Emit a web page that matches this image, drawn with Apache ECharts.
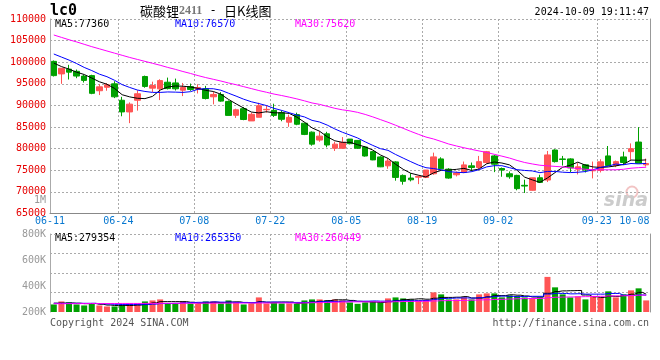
<!DOCTYPE html>
<html><head><meta charset="utf-8">
<script src="https://cdn.jsdelivr.net/npm/echarts@6/dist/echarts.min.js"></script>
<style>html,body{margin:0;padding:0;background:#fff}#c{width:660px;height:360px}</style>
</head><body><div id="c"></div>
<script>
const dates = ['06-11','06-12','06-13','06-14','06-17','06-18','06-19','06-20','06-21','06-24','06-25','06-26','06-27','06-28',
'07-01','07-02','07-03','07-04','07-05','07-08','07-09','07-10','07-11','07-12','07-15','07-16','07-17','07-18','07-19',
'07-22','07-23','07-24','07-25','07-26','07-29','07-30','07-31',
'08-01','08-02','08-05','08-06','08-07','08-08','08-09','08-12','08-13','08-14','08-15','08-16',
'08-19','08-20','08-21','08-22','08-23','08-26','08-27','08-28','08-29','08-30',
'09-02','09-03','09-04','09-05','09-06','09-09','09-10','09-11','09-12','09-13','09-18','09-19','09-20',
'09-23','09-24','09-25','09-26','09-27','09-30','10-08'];
const open = [100200,97300,98400,97900,96800,96900,93400,94200,95000,91200,88500,91200,96700,94000,93840,95370,95210,93530,94370,93700,93840,92000,92540,90930,87720,89250,86420,87260,89000,88870,88330,86120,87880,85890,83820,81990,83440,80080,80080,82220,81910,80380,79310,78090,76030,76940,73810,73200,73400,73350,74190,77630,75260,73960,74500,76030,75640,76790,78320,75410,74190,73810,71520,70370,73270,72740,79690,77630,77630,75260,76260,74880,74960,78320,76100,78090,79310,81530,76260];
const close = [96900,98600,97700,96800,95800,92800,94300,94800,92000,88500,90300,92700,94400,94600,95750,93900,93850,94150,93700,94150,91600,92550,91000,87700,89000,86750,87950,89950,89100,87700,86800,87250,85650,83300,81050,82900,80850,81050,81450,81150,80100,78300,77400,75800,77150,73350,72450,72800,73600,75050,78100,75350,73200,74350,76250,75650,77000,79300,76400,75050,73500,70750,71350,73250,72200,78550,77000,77500,75550,75800,75050,74950,76950,76100,77000,76800,80000,76650,76550];
const low = [96700,95000,96000,96300,95300,92600,92400,93400,91700,87500,85900,88800,94100,93100,91240,93700,93460,92160,93380,92770,91390,90250,90860,87700,87110,86580,86420,87260,88330,87340,86350,85050,85430,83140,80690,81610,80310,79470,79920,81000,79920,78170,77330,75720,75340,72590,71670,72430,71800,73200,73960,75260,73040,73580,74340,74730,75110,76560,74570,73500,73040,70370,69760,70290,72050,72280,76790,76100,74570,74040,74500,73120,74500,75950,75720,76260,77400,76640,75870];
const high = [100400,98600,99400,98300,97100,97100,94900,95200,95600,92000,90700,93500,96900,95500,96060,96440,96210,95210,95060,94900,94530,93150,93070,91160,89250,89630,88330,90630,90020,90400,88870,87880,88330,86040,83980,84050,83900,81610,82680,82220,81990,80540,79470,78240,77780,77100,74040,74340,73800,75050,79080,78010,75490,74730,77020,76790,78320,79470,78550,75640,74730,73960,72820,73270,73960,79470,79850,78320,77780,76640,76410,77020,77560,80610,77250,79310,81220,84970,77710];
const ma5 = [99800,99000,98400,97700,97160,96340,95480,94900,93940,92480,91980,91660,91580,92100,93550,94270,94500,94450,94270,93950,93490,93230,92600,91400,90370,89400,88480,88270,88550,88290,88300,88160,87300,86140,84810,84030,82750,81830,81460,81480,80920,80410,79680,78550,77750,76400,75230,74310,73870,73450,74400,74980,75060,75210,75450,74960,75290,76510,76920,76680,76250,75000,73410,72780,72210,73220,74470,75700,76160,76880,76180,75770,75660,75770,76010,76360,77370,77310,77400];
const ma10 = [101900,101200,100500,99700,98800,98070,97240,96650,95820,94820,94160,93570,93240,93020,93015,93125,93080,93015,93185,93750,93880,93865,93525,92835,92160,91445,90855,90435,89975,89330,88850,88320,87785,87345,86550,86165,85455,84565,83800,83145,82475,81580,80755,80005,79615,78660,77820,76995,76210,75600,75400,75105,74685,74540,74450,74680,75135,75785,76065,76065,75605,75145,74960,74850,74445,74735,74735,74555,74470,74545,74700,75120,75680,75965,76445,76270,76570,76485,76585];
const ma30 = [106300,105750,105200,104700,104150,103600,103100,102600,102100,101600,101100,100650,100200,99750,99300,98800,98350,97850,97400,96900,96450,96050,95650,95200,94800,94350,93900,93450,93050,92633,92297,91918,91517,91067,90575,90245,89797,89338,88987,88742,88402,87922,87355,86728,86108,85423,84710,83998,83328,82692,82242,81668,81075,80630,80205,79835,79470,79115,78692,78270,77827,77277,76800,76465,76170,76025,75897,75778,75582,75403,75235,75123,75108,75118,75113,75228,75480,75608,75707];
const volume = [195000,219000,211000,195000,187000,203000,187000,179000,179000,187000,203000,203000,219000,227000,235000,203000,203000,219000,203000,203000,219000,219000,203000,227000,211000,195000,203000,251000,203000,211000,203000,203000,203000,227000,235000,235000,227000,235000,227000,211000,200000,211000,219000,211000,243000,251000,243000,235000,227000,227000,291000,275000,235000,235000,251000,235000,275000,283000,283000,251000,267000,259000,251000,243000,251000,414000,331000,275000,251000,259000,235000,259000,251000,299000,251000,275000,307000,323000,227000];
const vma5 = [205000,206000,207000,205000,201400,203000,196600,190200,187000,187000,187000,190200,198200,207800,217400,217400,217400,217400,212600,206200,209400,212600,209400,214200,215800,211000,207800,217400,212600,212600,214200,214200,204600,209400,214200,220600,225400,231800,231800,227000,220000,216800,213600,210400,216800,227000,233400,236600,239800,236600,244600,251000,251000,252600,257400,246200,246200,255800,265400,265400,271800,268600,262200,254200,254200,283600,298000,302800,304400,306000,270200,255800,251000,260600,259000,267000,276600,291000,276600];
const vma10 = [204000,204000,204000,204000,204000,204000,201300,198600,196000,194200,195000,193400,194200,197400,202200,202200,203800,207800,210200,211800,213400,215000,213400,213400,211000,210200,210200,213400,213400,214200,212600,211000,211000,211000,213400,217400,219800,218200,220600,220600,220300,221100,222700,221100,221900,223500,225100,225100,225100,226700,235800,242200,243800,246200,247000,245400,248600,253400,259000,261400,259000,257400,259000,259800,259800,277700,283300,282500,279300,280100,276900,276900,276900,282500,282500,268600,266200,271000,268600];
const vma30 = [201000,201000,201500,201500,202000,202000,202000,202500,202500,203000,203000,203000,203500,203500,204000,204000,204000,204500,204500,205000,205000,205000,205500,205500,206000,206000,206000,206500,206500,206700,207000,206500,206200,207300,208900,209900,211300,213100,214700,215500,215400,215700,215700,215200,215400,217000,218400,218900,219700,220500,222900,224800,225800,226100,227400,228800,231200,232200,234900,236200,238400,240200,241800,242400,242900,248900,252300,253700,254500,256100,257200,258800,259900,262800,263100,263900,266000,269000,269000];
const gridDates = ['06-24','07-08','07-22','08-05','08-19','09-02','09-23'];
const labelDates = ['06-11','06-24','07-08','07-22','08-05','08-19','09-02','09-23','10-08'];
const priceLegend = ['MA5:77360','MA10:76570','MA30:75620'];
const volLegend = ['MA5:279354','MA10:265350','MA30:260449'];
const titleName = '碳酸锂', titleCode = '2411', titleRest = '日K线图';
const stamp = '2024-10-09 19:11:47';

const MONO = '"DejaVu Sans Mono", monospace';
const RED = '#ff5555', GREEN = '#00a000';
const BLUE_LABEL = '#0878d0';
const dotted = {color:'#aaa', width:1, type:[2,2]};
const lineCols = ['#000000','#0000ff','#ff00ff'];

const chart = echarts.init(document.getElementById('c'), null, {renderer:'canvas', width:660, height:360, devicePixelRatio:1});
const candle = dates.map((d,i)=>[open[i],close[i],low[i],high[i]]);
const volItems = volume.map((v,i)=>({value:v, itemStyle:{color: close[i]>=open[i]?RED:GREEN}}));
const lastDate = dates[dates.length-1];

function xAxisFor(gridIndex, showLabel){
  return {
    type:'category', gridIndex, data:dates, boundaryGap:true,
    axisLine:{show:gridIndex===0, lineStyle:{color:'#888', width:1}},
    axisTick:{show:false},
    axisLabel:{show:showLabel, interval:(i,v)=>labelDates.includes(v), color:BLUE_LABEL, fontFamily:MONO, fontSize:10, margin:3,
      padding:[0,7.6,0,0],
      formatter:v=> v===lastDate ? '{e|'+v+'}' : v,
      rich:{e:{padding:[0,16,0,0], color:BLUE_LABEL, fontFamily:MONO, fontSize:10}}},
    splitLine:{show:true, interval:(i,v)=>gridDates.includes(v), lineStyle:dotted}
  };
}

function txt(x,y,text,fill,opts){
  return Object.assign({type:'text', x, y, silent:true, style:Object.assign({text, fill, font:'10px '+MONO, align:'left', verticalAlign:'middle'}, opts||{})});
}

const legendX = [55,175,295];
const graphics = [];
priceLegend.forEach((t,k)=>graphics.push(txt(legendX[k],24,t,lineCols[k])));
volLegend.forEach((t,k)=>graphics.push(txt(legendX[k],238.5,t,lineCols[k])));
graphics.push(txt(50,11,'lc0','#000',{font:'bold 15px '+MONO}));
graphics.push({type:'text', x:140, y:11, silent:true, style:{
  text:'{a|'+titleName+'}{b|'+titleCode+'}{c| - }{a|'+titleRest+'}', verticalAlign:'middle', align:'left',
  rich:{a:{font:'13px "Noto Sans CJK SC"', fill:'#000'}, b:{font:'bold 12px "Liberation Serif"', fill:'#777'}, c:{font:'12px '+MONO, fill:'#000'}}}});
graphics.push(txt(649,12,stamp,'#000',{align:'right'}));
graphics.push(txt(46,200.5,'1M','#999',{align:'right'}));
graphics.push(txt(50,323.5,'Copyright 2024 SINA.COM','#555'));
graphics.push(txt(649,323.5,'http://finance.sina.com.cn','#555',{align:'right'}));
graphics.push({type:'circle', silent:true, shape:{cx:632, cy:192, r:5.5}, style:{fill:'none', stroke:'#f2c4c4', lineWidth:2}});
graphics.push(txt(648,201,'sina','#cccccc',{align:'right', font:'italic bold 19px "DejaVu Sans"'}));

const option = {
  animation:false,
  backgroundColor:'#fff',
  grid:[
    {left:50, right:10, top:19, height:194.5, outerBoundsMode:'none'},
    {left:50, right:10, top:234, height:78, outerBoundsMode:'none'}
  ],
  xAxis:[xAxisFor(0,true), xAxisFor(1,false)],
  yAxis:[
    {gridIndex:0, type:'value', min:65000, max:110000, interval:5000, position:'left',
      axisLine:{show:true, lineStyle:{color:'#aaa'}}, axisTick:{show:false},
      axisLabel:{color:'#e60000', fontFamily:MONO, fontSize:10, margin:4, padding:[0,0,4,0], formatter:v=>String(v)},
      splitLine:{show:true, lineStyle:dotted}},
    {gridIndex:0, type:'value', min:65000, max:110000, position:'right',
      axisLine:{show:true, lineStyle:{color:'#999'}}, axisTick:{show:false}, axisLabel:{show:false}, splitLine:{show:false}},
    {gridIndex:1, type:'value', min:135000, max:755000, startValue:135000, position:'right', show:false, splitLine:{show:false}},
    {gridIndex:1, type:'value', min:200000, max:800000, interval:200000, position:'left',
      axisLine:{show:true, lineStyle:{color:'#aaa'}}, axisTick:{show:false},
      axisLabel:{color:'#999', fontFamily:MONO, fontSize:10, margin:4, formatter:v=>(v/1000)+'K'},
      splitLine:{show:false}},
    {gridIndex:1, type:'value', min:0, max:4, interval:1, position:'right',
      axisLine:{show:true, lineStyle:{color:'#999'}}, axisTick:{show:false}, axisLabel:{show:false},
      splitLine:{show:true, showMinLine:false, lineStyle:dotted}}
  ],
  series:[
    {type:'candlestick', xAxisIndex:0, yAxisIndex:0, data:candle, barWidth:6,
      itemStyle:{color:RED, color0:GREEN, borderColor:RED, borderColor0:GREEN, borderWidth:1}},
    {type:'line', xAxisIndex:0, yAxisIndex:0, data:ma5, symbol:'none', lineStyle:{color:lineCols[0], width:1}},
    {type:'line', xAxisIndex:0, yAxisIndex:0, data:ma10, symbol:'none', lineStyle:{color:lineCols[1], width:1}},
    {type:'line', xAxisIndex:0, yAxisIndex:0, data:ma30, symbol:'none', lineStyle:{color:lineCols[2], width:1}},
    {type:'bar', xAxisIndex:1, yAxisIndex:2, data:volItems, barWidth:6},
    {type:'line', xAxisIndex:1, yAxisIndex:2, data:vma5, symbol:'none', step:'middle', lineStyle:{color:lineCols[0], width:1}},
    {type:'line', xAxisIndex:1, yAxisIndex:2, data:vma10, symbol:'none', step:'middle', lineStyle:{color:lineCols[1], width:1}},
    {type:'line', xAxisIndex:1, yAxisIndex:2, data:vma30, symbol:'none', step:'middle', lineStyle:{color:lineCols[2], width:1}}
  ],
  graphic:graphics
};
chart.setOption(option);
</script>
</body></html>
